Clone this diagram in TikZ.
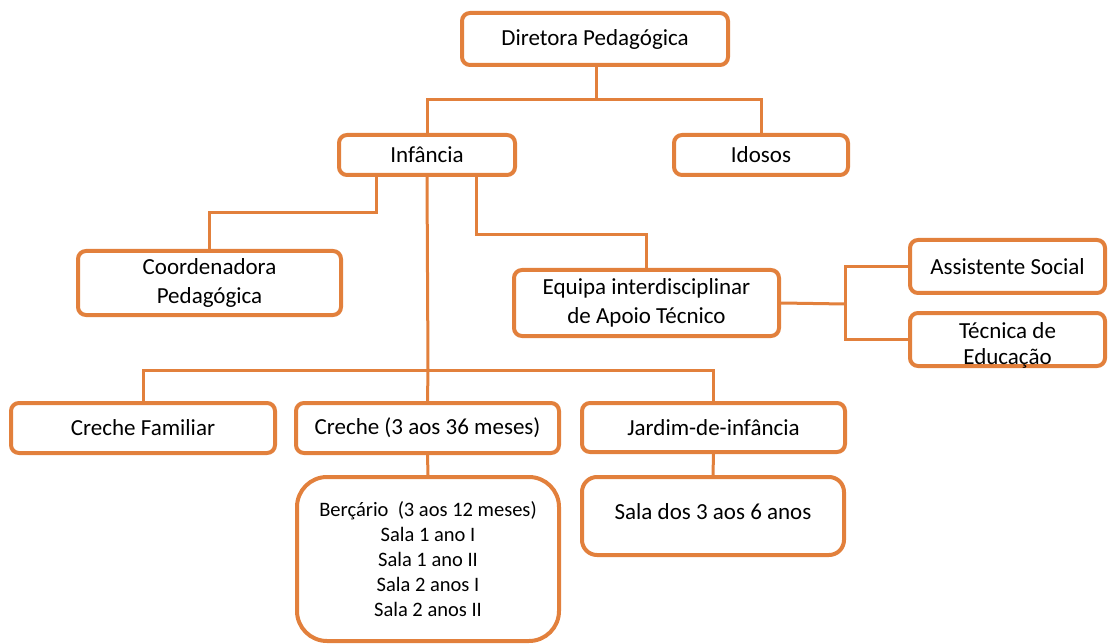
\documentclass[tikz,border=0pt]{standalone}
\usepackage{fontspec}
\setmainfont{Carlito}
\definecolor{org}{RGB}{226,128,60}
\tikzset{
  box/.style={draw=org, line width=4pt, rounded corners=8pt, fill=white, align=center, inner sep=0pt,
    font=\fontsize{23}{29}\selectfont},
  conn/.style={draw=org, line width=3pt}
}
\begin{document}
\begin{tikzpicture}[x=1pt,y=-1pt]
\useasboundingbox (0,0) rectangle (1108,644);
\coordinate (d1) at (596,100);
\coordinate (j1) at (376,213);
\coordinate (j2) at (476,235);
\coordinate (j3) at (428,370);
\coordinate (j4) at (845,304);
\node[box, minimum width=266pt, minimum height=52pt] (dir) at (595,39) {Diretora Pedagógica};
\node[box, minimum width=176pt, minimum height=40pt] (inf) at (427,155) {Infância};
\node[box, minimum width=174pt, minimum height=40pt] (ido) at (761,155) {Idosos};
\node[box, minimum width=263pt, minimum height=64pt] (coord) at (209.5,283) {Coordenadora\\Pedagógica};
\node[box, minimum width=265pt, minimum height=66pt] (equipa) at (646.5,303) {Equipa interdisciplinar\\de Apoio Técnico};
\node[box, minimum width=195pt, minimum height=53pt] (assist) at (1007.5,266.5) {Assistente Social};
\node[box, minimum width=195pt, minimum height=53pt, text height=16pt, text depth=0pt] (tecn) at (1007.5,339.5) {\raisebox{-4pt}{\parbox{180pt}{\centering\fontsize{23}{26}\selectfont Técnica de\\Educação}}};
\node[box, minimum width=264pt, minimum height=50pt] (crfam) at (143,428) {Creche Familiar};
\node[box, minimum width=263pt, minimum height=50pt] (creche) at (427.5,428) {Creche (3 aos 36 meses)};
\node[box, minimum width=263pt, minimum height=49pt] (jardim) at (713.5,427.5) {Jardim-de-infância};
\node[box, rounded corners=30pt, minimum width=262pt, minimum height=164pt, font=\fontsize{20.5}{25}\selectfont] (berc) at (428,559) {\raisebox{-8pt}{\parbox{250pt}{\centering Berçário\ \ (3 aos 12 meses)\\Sala 1 ano I\\Sala 1 ano II\\Sala 2 anos I\\Sala 2 anos II}}};
\node[box, rounded corners=15pt, minimum width=262pt, minimum height=78pt] (sala) at (713,516) {\raisebox{8pt}{Sala dos 3 aos 6 anos}};
\draw[conn] (dir.south -| d1) -- (d1);
\draw[conn] (inf.north) |- (d1) -| (ido.north);
\draw[conn] (inf.south -| j1) -- (j1) -| (coord.north);
\draw[conn] (inf.south -| j2) -- (j2) -| (equipa.north);
\draw[conn] (inf.south) -- (j3) -- (creche.north);
\draw[conn] (crfam.north) |- (j3) -| (jardim.north);
\draw[conn] (equipa.east) -- (j4);
\draw[conn] (j4) |- (assist.west);
\draw[conn] (j4) |- (tecn.west);
\draw[conn] (creche.south) -- (berc.north);
\draw[conn] (jardim.south) -- (sala.north);
\end{tikzpicture}
\end{document}
